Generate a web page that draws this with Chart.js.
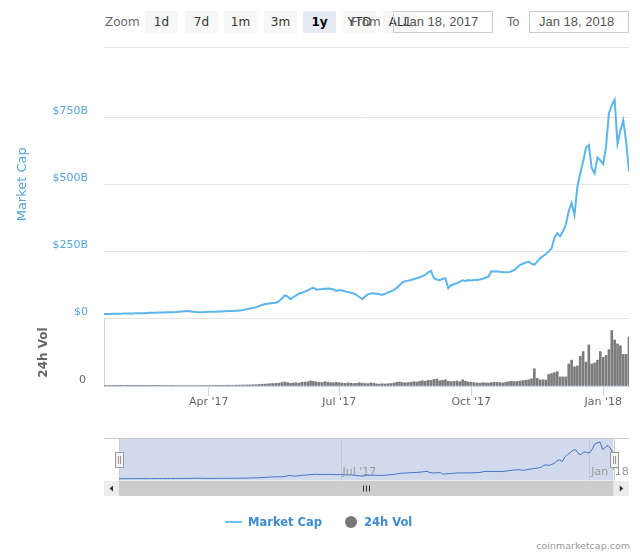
<!DOCTYPE html>
<html>
<head>
<meta charset="utf-8">
<script src="https://cdn.jsdelivr.net/npm/chart.js@4.4.1/dist/chart.umd.min.js"></script>
<style>
    body { margin: 0; background: #fff; font-family: 'DejaVu Sans', Verdana, sans-serif; }
    #page { position: relative; width: 640px; height: 555px; overflow: hidden; }
    .abs { position: absolute; }
    .lbl { position: absolute; top: 11px; height: 22px; line-height: 22px; font-size: 12px; color: #666; }
    .btn { position: absolute; top: 11px; width: 33px; height: 22px; line-height: 22px; text-align: center;
           font-size: 12px; color: #333; background: #f7f7f7; }
    .btn.sel { background: #e6ebf5; color: #000; font-weight: bold; }
    .fecha { position: absolute; top: 11px; width: 100px; height: 22px; box-sizing: border-box; border: 1px solid #ccc;
             padding-left: 9px; line-height: 20px; font-family: 'Liberation Sans', Arial, sans-serif; font-size: 13px; color: #555; }
    .leyenda { position: absolute; top: 514px; line-height: 16px; font-size: 11.5px; font-weight: bold; color: #3d8bd1; }
</style>
</head>
<body>
<div id="page">
    <!-- Barra de zoom -->
    <div class="lbl" style="left:105px">Zoom</div>
    <div class="btn" style="left:145px">1d</div>
    <div class="btn" style="left:185px">7d</div>
    <div class="btn" style="left:224px">1m</div>
    <div class="btn" style="left:264px">3m</div>
    <div class="btn sel" style="left:303px">1y</div>
    <div class="btn" style="left:343px">YTD</div>
    <div class="btn" style="left:383px">ALL</div>
    <div class="lbl" style="left:351px">From</div>
    <div class="fecha" style="left:393px">Jan 18, 2017</div>
    <div class="lbl" style="left:507px">To</div>
    <div class="fecha" style="left:529px">Jan 18, 2018</div>
    <div class="abs" style="left:104px; top:47px; width:525px; height:1px; background:#e6e6e6"></div>

    <div class="abs" style="left:0; top:0"><canvas id="capChart" width="640" height="330"></canvas></div>
    <div class="abs" style="left:0; top:300px"><canvas id="volChart" width="640" height="130"></canvas></div>
    <div class="abs" style="left:0; top:420px"><canvas id="navChart" width="640" height="100"></canvas></div>

    <!-- Leyenda -->
    <div class="abs" style="left:225px; top:521px; width:17px; height:2px; background:#6cc0f2"></div>
    <div class="leyenda" style="left:248px">Market Cap</div>
    <div class="abs" style="left:345px; top:516px; width:12px; height:12px; border-radius:50%; background:#777"></div>
    <div class="leyenda" style="left:364px">24h Vol</div>
    <div class="abs" style="right:10px; top:539px; line-height:14px; font-size:9.5px; color:#999">coinmarketcap.com</div>
</div>

<script>
// Datos: un valor cada 2 dias desde Jan 18, 2017 (dia 0)
const stepDays = 2;

// Market Cap en miles de millones de USD
const capValues = [
    17, 17, 17, 17.5, 17.5, 18, 18, 18.5, 18.5, 19,
    19, 19.5, 19.5, 20, 20, 20.5, 21, 21, 21.5, 22,
    22, 22.5, 23, 23, 23.5, 24, 25, 26, 27, 28,
    27, 25, 24, 23, 23.5, 24, 24.5, 25, 25.5, 25.5,
    26, 26.5, 27, 27, 27.5, 28, 29, 30, 31, 33,
    35, 37, 39, 42, 46, 50, 53, 55, 57, 58,
    59, 64, 74, 86, 82, 72, 80, 86, 93, 96,
    100, 105, 110, 115, 108, 108, 110, 111, 112, 111,
    108, 103, 106, 104, 101, 99, 96, 93, 88, 80,
    73, 82, 90, 93, 94, 92, 90, 88, 92, 97,
    101, 106, 114, 124, 134, 139, 141, 143, 147, 150,
    153, 158, 162, 172, 177, 150, 145, 143, 147, 150,
    113, 124, 128, 131, 136, 142, 140, 143, 142, 143,
    143, 145, 148, 152, 156, 175, 176, 175, 174, 172,
    172, 172, 176, 180, 190, 199, 204, 208, 212, 204,
    200, 212, 224, 232, 240, 250, 261, 300, 318, 306,
    325, 350, 400, 430, 385, 490, 540, 585, 636, 646,
    560, 540, 600, 590, 575, 640, 765, 795, 815, 650,
    700, 738, 660, 548
];

// 24h Vol en miles de millones de USD
const volValues = [
    0.3, 0.3, 0.3, 0.3, 0.3, 0.3, 0.3, 0.3, 0.3, 0.3,
    0.3, 0.3, 0.3, 0.3, 0.3, 0.3, 0.3, 0.3, 0.3, 0.3,
    0.4, 0.4, 0.4, 0.4, 0.4, 0.5, 0.5, 0.5, 0.5, 0.5,
    0.5, 0.5, 0.5, 0.5, 0.6, 0.6, 0.6, 0.6, 0.6, 0.7,
    0.7, 0.7, 0.7, 0.8, 0.8, 0.8, 0.9, 0.9, 1.0, 1.0,
    1.1, 1.2, 1.3, 1.4, 1.6, 1.8, 2.0, 2.2, 2.5, 2.6,
    2.8, 3.0, 3.6, 4.2, 3.5, 2.8, 3.2, 3.4, 3.0, 3.8,
    4.0, 4.4, 5.2, 4.8, 4.3, 3.9, 3.6, 4.5, 4.0, 3.5,
    3.3, 3.8, 3.4, 3.0, 2.8, 3.2, 3.0, 2.6, 2.8, 3.4,
    3.0, 2.6, 2.5, 3.2, 2.8, 2.2, 2.0, 2.3, 2.1, 2.4,
    2.6, 3.0, 3.8, 4.2, 3.6, 3.3, 3.6, 4.0, 4.5, 4.2,
    4.8, 5.5, 5.0, 6.0, 5.8, 6.8, 7.2, 5.5, 6.0, 6.5,
    5.0, 4.5, 4.8, 5.2, 4.6, 6.5, 5.0, 4.2, 4.0, 3.5,
    3.2, 3.0, 3.4, 3.2, 3.0, 3.6, 4.0, 3.8, 3.5, 3.2,
    4.0, 4.5, 5.0, 4.6, 4.8, 5.2, 5.6, 6.0, 6.5, 7.5,
    18.0, 8.0, 6.3, 6.5, 6.3, 12.0, 13.0, 14.0, 15.0, 9.5,
    9.5, 9.5, 23.0, 27.0, 20.0, 21.0, 31.0, 36.0, 25.0, 43.0,
    23.0, 24.0, 27.0, 36.0, 30.0, 32.0, 38.0, 58.0, 48.0, 44.0,
    42.0, 33.0, 33.0, 51.0
];

// Ejes
const xTickDays = [73, 164, 256, 348];
const xTickLabels = ["Apr '17", "Jul '17", "Oct '17", "Jan '18"];
const navTickDays = [164, 348];
const navTickLabels = ["Jul '17", "Jan '18"];
const capTicks = [0, 250, 500, 750];
const capTickLabels = ['$0', '$250B', '$500B', '$750B'];
const volTicks = [0];
const volTickLabels = ['0'];

const capColor = '#5cb5ee';
const axisBlue = '#55a5d9';

Chart.defaults.font.family = "'DejaVu Sans', Verdana, sans-serif";
Chart.defaults.animation = false;
Chart.defaults.responsive = false;
Chart.defaults.plugins.legend.display = false;
Chart.defaults.plugins.tooltip.enabled = false;

function puntos(valores) {
    return valores.map((v, i) => ({ x: i * stepDays, y: v }));
}

// Grafico principal: Market Cap
// (la separacion de las etiquetas se hace con ticks invisibles para no mover el area del grafico)
const capChart = new Chart(document.getElementById('capChart'), {
    type: 'line',
    data: {
        datasets: [{
            data: puntos(capValues),
            borderColor: capColor,
            borderWidth: 2,
            pointRadius: 0,
            tension: 0
        }]
    },
    options: {
        layout: { padding: { top: 50, right: 11, bottom: 11.5, left: 0 } },
        scales: {
            x: { type: 'linear', min: 0, max: 366, display: false },
            y: {
                min: 0,
                max: 1000,
                afterFit: (s) => { s.width = 104; },
                afterBuildTicks: (s) => { s.ticks = capTicks.map(v => ({ value: v })); },
                grid: { color: '#e6e6e6', drawTicks: true, tickLength: 16, tickColor: 'rgba(0,0,0,0)' },
                border: { display: false },
                ticks: {
                    padding: 0,
                    labelOffset: -6,
                    color: axisBlue,
                    font: { size: 11 },
                    callback: (v, i) => capTickLabels[i]
                },
                title: {
                    display: true,
                    text: 'Market Cap',
                    color: axisBlue,
                    font: { size: 13 },
                    padding: { top: 15, bottom: 0 }
                }
            }
        }
    }
});

// Panel de volumen
const volChart = new Chart(document.getElementById('volChart'), {
    type: 'bar',
    data: {
        datasets: [{
            data: puntos(volValues),
            backgroundColor: '#7c7c7c',
            borderWidth: 0,
            barThickness: 2
        }]
    },
    options: {
        layout: { padding: { top: 19, right: 11, bottom: 0, left: 0 } },
        scales: {
            x: {
                type: 'linear',
                min: 0,
                max: 366,
                offset: false,
                afterFit: (s) => { s.height = 44; },
                afterBuildTicks: (s) => { s.ticks = xTickDays.map(v => ({ value: v })); },
                grid: { offset: false, drawOnChartArea: false, drawTicks: true, tickLength: 10, color: '#ccd6eb' },
                border: { display: true, color: '#ccd6eb' },
                ticks: {
                    padding: 0,
                    autoSkip: false,
                    maxRotation: 0,
                    color: '#666',
                    font: { size: 11 },
                    callback: (v, i) => xTickLabels[i]
                }
            },
            y: {
                min: 0,
                max: 70,
                afterFit: (s) => { s.width = 104; },
                afterBuildTicks: (s) => { s.ticks = volTicks.map(v => ({ value: v })); },
                grid: { drawOnChartArea: false, drawTicks: true, tickLength: 18, tickColor: 'rgba(0,0,0,0)' },
                border: { display: true, color: '#ccd6eb' },
                ticks: {
                    padding: 0,
                    labelOffset: -6,
                    color: '#666',
                    font: { size: 11 },
                    callback: (v, i) => volTickLabels[i]
                },
                title: {
                    display: true,
                    text: '24h Vol',
                    color: '#666',
                    font: { size: 12, weight: 'bold' },
                    padding: { top: 37, bottom: 0 }
                }
            }
        }
    }
});

// Dibujo del navegador (mascara, rejilla, barra de desplazamiento y asas)
const navDecor = {
    id: 'navDecor',
    beforeDraw(chart) {
        const ctx = chart.ctx;
        const { left, right, top, bottom } = chart.chartArea;
        const outL = capChart.chartArea.left;
        const outR = capChart.chartArea.right;
        ctx.save();
        ctx.fillStyle = 'rgba(102,133,194,0.3)';
        ctx.fillRect(left, top, right - left, bottom - top);

        ctx.strokeStyle = '#bfc8dc';
        ctx.lineWidth = 1;
        navTickDays.forEach(d => {
            const x = Math.round(chart.scales.x.getPixelForValue(d)) + 0.5;
            ctx.beginPath();
            ctx.moveTo(x, top);
            ctx.lineTo(x, bottom);
            ctx.stroke();
        });

        // contorno
        ctx.strokeStyle = '#cccccc';
        ctx.beginPath();
        ctx.moveTo(outL, top);
        ctx.lineTo(outR, top);
        ctx.moveTo(Math.round(left) + 0.5, top);
        ctx.lineTo(Math.round(left) + 0.5, bottom);
        ctx.moveTo(Math.round(right) + 0.5, top);
        ctx.lineTo(Math.round(right) + 0.5, bottom);
        ctx.stroke();

        // barra de desplazamiento
        const sy = bottom + 0.5;
        const sh = 15;
        ctx.fillStyle = '#f2f2f2';
        ctx.fillRect(outL, sy, outR - outL, sh);
        ctx.fillStyle = '#cccccc';
        ctx.fillRect(left, sy, right - left, sh);
        ctx.fillStyle = '#ececec';
        ctx.fillRect(outL, sy, left - outL, sh);
        ctx.fillRect(right, sy, outR - right, sh);

        const cy = sy + sh / 2;
        ctx.fillStyle = '#333';
        const la = (outL + left) / 2;
        ctx.beginPath();
        ctx.moveTo(la - 2, cy);
        ctx.lineTo(la + 1.5, cy - 3);
        ctx.lineTo(la + 1.5, cy + 3);
        ctx.fill();
        const ra = (right + outR) / 2;
        ctx.beginPath();
        ctx.moveTo(ra + 2, cy);
        ctx.lineTo(ra - 1.5, cy - 3);
        ctx.lineTo(ra - 1.5, cy + 3);
        ctx.fill();

        const gx = Math.round((left + right) / 2);
        ctx.strokeStyle = '#333';
        ctx.beginPath();
        [-3, 0, 3].forEach(o => {
            ctx.moveTo(gx + o + 0.5, cy - 3);
            ctx.lineTo(gx + o + 0.5, cy + 3);
        });
        ctx.stroke();
        ctx.restore();
    },
    afterDatasetsDraw(chart) {
        const ctx = chart.ctx;
        const { bottom } = chart.chartArea;
        ctx.save();
        ctx.fillStyle = '#999';
        ctx.font = "11px 'DejaVu Sans', Verdana, sans-serif";
        ctx.textBaseline = 'middle';
        navTickDays.forEach((d, i) => {
            const x = chart.scales.x.getPixelForValue(d);
            ctx.fillText(navTickLabels[i], x + 2, bottom - 8);
        });
        ctx.restore();
    },
    afterDraw(chart) {
        const ctx = chart.ctx;
        const { left, right, top, bottom } = chart.chartArea;
        const cy = Math.round((top + bottom) / 2);
        ctx.save();
        ctx.lineWidth = 1;
        [left, right].forEach(hx => {
            const x = Math.round(hx);
            ctx.fillStyle = '#f2f2f2';
            ctx.strokeStyle = '#999';
            ctx.fillRect(x - 4, cy - 8, 8, 15);
            ctx.strokeRect(x - 4 + 0.5, cy - 8 + 0.5, 8, 15);
            ctx.beginPath();
            ctx.moveTo(x - 1 + 0.5, cy - 4);
            ctx.lineTo(x - 1 + 0.5, cy + 4);
            ctx.moveTo(x + 1 + 0.5, cy - 4);
            ctx.lineTo(x + 1 + 0.5, cy + 4);
            ctx.stroke();
        });
        ctx.restore();
    }
};

// Navegador
const navChart = new Chart(document.getElementById('navChart'), {
    type: 'line',
    data: {
        datasets: [{
            data: puntos(capValues),
            borderColor: '#4570c4',
            borderWidth: 1,
            pointRadius: 0,
            tension: 0
        }]
    },
    options: {
        layout: { padding: { top: 18.5, right: 26.5, bottom: 39.5, left: 119 } },
        scales: {
            x: { type: 'linear', min: 0, max: 366, display: false },
            y: { min: -22, max: 890, display: false }
        }
    },
    plugins: [navDecor]
});
</script>
</body>
</html>
